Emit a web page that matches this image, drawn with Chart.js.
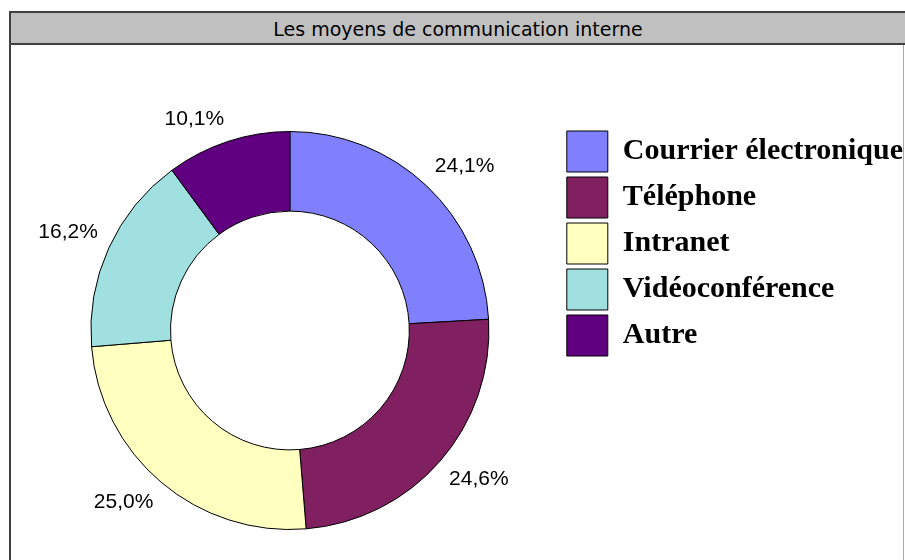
<!DOCTYPE html>
<html>
<head>
<meta charset="utf-8">
<script src="https://cdn.jsdelivr.net/npm/chart.js@4/dist/chart.umd.min.js"></script>
<style>
  html, body { margin: 0; padding: 0; background: #fff; width: 905px; height: 560px; overflow: hidden; }
  #frame { position: absolute; left: 9px; top: 11px; width: 896px; height: 560px;
           border-left: 2px solid #404040; border-top: 2px solid #404040; box-sizing: border-box; }
  #title { position: absolute; left: 0; top: 0; width: 100%; height: 32px; background: #c0c0c0;
           border-bottom: 2px solid #404040; box-sizing: border-box;
           font-family: "DejaVu Sans", sans-serif; font-size: 19px; line-height: 32px;
           text-align: center; color: #000; }
  #wrap { position: absolute; left: 11px; top: 45px; width: 902px; height: 515px; }
  #rightline { position: absolute; left: 903px; top: 45px; width: 1px; height: 515px; background: #a8a8a8; z-index: 5; }
</style>
</head>
<body>
<div id="frame"><div id="title">Les moyens de communication interne</div></div>
<div id="wrap"><canvas id="c"></canvas></div>
<div id="rightline"></div>
<script>
const categories = ["Courrier électronique", "Téléphone", "Intranet", "Vidéoconférence", "Autre"];
const values = [24.1, 24.6, 25.0, 16.2, 10.1];
const colors = ["#8080ff", "#802060", "#ffffc0", "#a0e0e0", "#600080"];

function fmtPct(v) { return v.toFixed(1).replace('.', ',') + '%'; }

const pctLabels = {
  id: 'pctLabels',
  afterDatasetsDraw(chart) {
    const ctx = chart.ctx;
    const meta = chart.getDatasetMeta(0);
    ctx.save();
    ctx.font = '21px "Liberation Sans", Arial, sans-serif';
    ctx.fillStyle = '#000';
    meta.data.forEach((arc, i) => {
      const p = arc.getProps(['x', 'y', 'startAngle', 'endAngle', 'outerRadius'], true);
      const mid = (p.startAngle + p.endAngle) / 2;
      const r = p.outerRadius + 12;
      const px = p.x + Math.cos(mid) * r;
      const py = p.y + Math.sin(mid) * r;
      ctx.textAlign = Math.cos(mid) >= 0 ? 'left' : 'right';
      ctx.textBaseline = Math.sin(mid) >= 0 ? 'top' : 'bottom';
      ctx.fillText(fmtPct(values[i]), px, py);
    });
    ctx.restore();
  }
};

new Chart(document.getElementById('c'), {
  type: 'doughnut',
  data: {
    labels: categories,
    datasets: [{
      data: values,
      backgroundColor: colors,
      borderColor: '#000',
      borderWidth: 1,
      hoverOffset: 0
    }]
  },
  options: {
    responsive: true,
    maintainAspectRatio: false,
    animation: false,
    events: [],
    radius: 199,
    cutout: '60%',
    layout: { padding: { left: 7, right: 0, top: 81, bottom: 25 } },
    plugins: {
      title: { display: false },
      tooltip: { enabled: false },
      legend: {
        display: true,
        position: 'right',
        align: 'start',
        labels: {
          boxWidth: 41,
          boxHeight: 41,
          padding: 5,
          color: '#000',
          font: { family: '"Liberation Serif", "Times New Roman", serif', size: 30, weight: 'bold' }
        }
      }
    }
  },
  plugins: [pctLabels]
});
</script>
</body>
</html>
